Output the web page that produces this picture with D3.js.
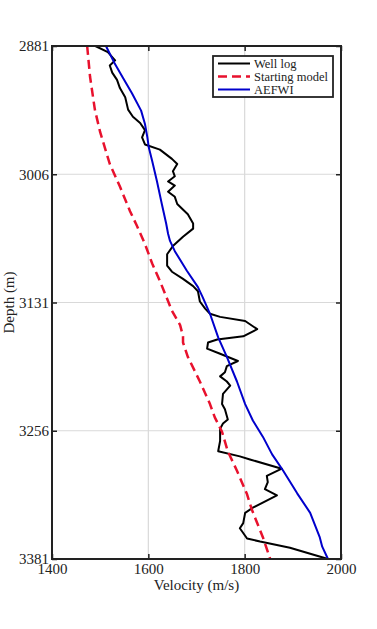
<!DOCTYPE html>
<html>
<head>
<meta charset="utf-8">
<script src="https://cdn.jsdelivr.net/npm/d3@7"></script>
<style>
  body { margin: 0; background: #fff; }
  text { font-family: "Liberation Serif", "Times New Roman", serif; fill: #222; }
</style>
</head>
<body>
<script>
// depth ticks and velocity ticks
var depthTicks = [2881, 3006, 3131, 3256, 3381];
var velTicks = [1400, 1600, 1800, 2000];

// well log : [velocity, depth]
var wellLog = [
  [1490, 2881], [1516, 2887], [1531, 2895], [1520, 2900], [1525, 2907], [1535, 2914],
  [1541, 2922], [1552, 2931], [1558, 2943], [1568, 2950], [1583, 2956], [1593, 2963],
  [1587, 2970], [1593, 2977], [1624, 2982], [1649, 2991], [1660, 2996], [1651, 3003],
  [1655, 3008], [1641, 3013], [1655, 3017], [1641, 3023], [1655, 3028], [1660, 3035],
  [1682, 3045], [1693, 3054], [1693, 3059], [1672, 3067], [1651, 3076], [1639, 3084],
  [1639, 3095], [1649, 3101], [1672, 3108], [1693, 3115], [1703, 3120], [1707, 3130],
  [1718, 3137], [1728, 3142], [1749, 3145], [1801, 3149], [1826, 3157], [1797, 3164],
  [1743, 3167], [1724, 3170], [1722, 3176], [1749, 3181], [1786, 3188], [1763, 3193],
  [1759, 3199], [1749, 3203], [1763, 3208], [1770, 3212], [1755, 3220], [1753, 3230],
  [1759, 3235], [1765, 3245], [1755, 3249], [1749, 3254], [1749, 3266], [1745, 3276],
  [1790, 3281], [1811, 3284], [1877, 3293], [1846, 3300], [1848, 3306], [1842, 3313],
  [1867, 3319], [1817, 3331], [1801, 3336], [1797, 3346], [1790, 3351], [1805, 3361],
  [1832, 3364], [1894, 3370], [1973, 3381]
];

// starting model
var startModel = [
  [1473, 2881], [1479, 2911], [1489, 2943], [1500, 2965], [1520, 2996], [1541, 3018],
  [1562, 3042], [1576, 3056], [1593, 3074], [1608, 3093], [1624, 3110], [1649, 3139],
  [1666, 3153], [1672, 3164], [1672, 3170], [1682, 3184], [1707, 3208], [1728, 3230],
  [1738, 3243], [1753, 3257], [1765, 3276], [1784, 3295], [1805, 3318], [1815, 3333],
  [1838, 3360], [1853, 3381]
];

// AEFWI result
var aefwi = [
  [1512, 2881], [1529, 2897], [1546, 2911], [1566, 2927], [1585, 2944], [1593, 2957],
  [1598, 2970], [1601, 2980], [1608, 2993], [1618, 3013], [1628, 3035], [1637, 3054],
  [1641, 3064], [1645, 3071], [1655, 3081], [1680, 3100], [1703, 3116], [1713, 3126],
  [1728, 3142], [1745, 3165], [1763, 3184], [1784, 3208], [1801, 3230], [1817, 3246],
  [1838, 3262], [1857, 3279], [1880, 3295], [1909, 3317], [1936, 3336], [1956, 3360],
  [1961, 3369], [1973, 3381]
];

var seriesNames = ["Well log", "Starting model", "AEFWI"];

var width = 377, height = 629;
var mLeft = 52, mTop = 46, mRight = 341, mBottom = 559;

var svg = d3.select("body").append("svg")
    .attr("width", width)
    .attr("height", height);

svg.append("rect").attr("width", width).attr("height", height).attr("fill", "#fff");

var x = d3.scaleLinear().domain([1400, 2000]).range([mLeft, mRight]);
var y = d3.scaleLinear().domain([2881, 3381]).range([mTop, mBottom]);

// grid
svg.append("g").selectAll("line")
  .data(velTicks).enter().append("line")
    .attr("x1", function(d) { return x(d); }).attr("x2", function(d) { return x(d); })
    .attr("y1", mTop).attr("y2", mBottom)
    .attr("stroke", "#d9d9d9").attr("stroke-width", 1.2);
svg.append("g").selectAll("line")
  .data(depthTicks).enter().append("line")
    .attr("y1", function(d) { return y(d); }).attr("y2", function(d) { return y(d); })
    .attr("x1", mLeft).attr("x2", mRight)
    .attr("stroke", "#d9d9d9").attr("stroke-width", 1.2);

var line = d3.line()
    .x(function(d) { return x(d[0]); })
    .y(function(d) { return y(d[1]); });

var styles = [
  { data: wellLog, color: "#000", width: 2, dash: null },
  { data: startModel, color: "#e8112d", width: 2.5, dash: "9,5" },
  { data: aefwi, color: "#0000cc", width: 2, dash: null }
];

var plot = svg.append("g");
plot.selectAll("path")
  .data(styles).enter().append("path")
    .attr("d", function(d) { return line(d.data); })
    .attr("fill", "none")
    .attr("stroke", function(d) { return d.color; })
    .attr("stroke-width", function(d) { return d.width; })
    .attr("stroke-dasharray", function(d) { return d.dash; })
    .attr("stroke-linejoin", "round");

// axes, ticks inward like matlab
function styleAxis(g) {
  g.select(".domain").remove();
  g.selectAll(".tick line").attr("stroke", "#222").attr("stroke-width", 1.5);
  g.selectAll(".tick text").attr("font-size", 15).attr("fill", "#222")
    .style("font-family", "'Liberation Serif', serif");
}

svg.append("g")
    .attr("transform", "translate(" + mLeft + ",0)")
    .call(d3.axisLeft(y).tickValues(depthTicks).tickFormat(d3.format("d")).tickSizeInner(-5).tickSizeOuter(0).tickPadding(3))
    .call(styleAxis);
svg.append("g")
    .attr("transform", "translate(0," + mBottom + ")")
    .call(d3.axisBottom(x).tickValues(velTicks).tickFormat(d3.format("d")).tickSizeInner(-5).tickSizeOuter(0).tickPadding(4))
    .call(styleAxis);
svg.append("g")
    .attr("transform", "translate(" + mRight + ",0)")
    .call(d3.axisRight(y).tickValues(depthTicks).tickFormat("").tickSizeInner(-5).tickSizeOuter(0))
    .call(styleAxis);
svg.append("g")
    .attr("transform", "translate(0," + mTop + ")")
    .call(d3.axisTop(x).tickValues(velTicks).tickFormat("").tickSizeInner(-5).tickSizeOuter(0))
    .call(styleAxis);

// box
svg.append("rect")
    .attr("x", mLeft).attr("y", mTop)
    .attr("width", mRight - mLeft).attr("height", mBottom - mTop)
    .attr("fill", "none").attr("stroke", "#222").attr("stroke-width", 2);

// axis titles
svg.append("text")
    .attr("x", (mLeft + mRight) / 2).attr("y", 590)
    .attr("text-anchor", "middle").attr("font-size", 15)
    .text("Velocity (m/s)");
svg.append("text")
    .attr("transform", "translate(14," + ((mTop + mBottom) / 2) + ") rotate(-90)")
    .attr("text-anchor", "middle").attr("font-size", 15)
    .text("Depth (m)");

// legend
var leg = svg.append("g").attr("transform", "translate(213,56)");
leg.append("rect")
    .attr("width", 120).attr("height", 41)
    .attr("fill", "#fff").attr("stroke", "#222").attr("stroke-width", 1.8);
var items = leg.selectAll("g")
  .data(styles).enter().append("g")
    .attr("transform", function(d, i) { return "translate(0," + (7.5 + i * 13) + ")"; });
items.append("line")
    .attr("x1", 5).attr("x2", 37)
    .attr("stroke", function(d) { return d.color; })
    .attr("stroke-width", function(d) { return d.width; })
    .attr("stroke-dasharray", function(d) { return d.dash; });
items.append("text")
    .attr("x", 41).attr("dy", "0.33em")
    .attr("font-size", 12.5)
    .text(function(d, i) { return seriesNames[i]; });
</script>
</body>
</html>
